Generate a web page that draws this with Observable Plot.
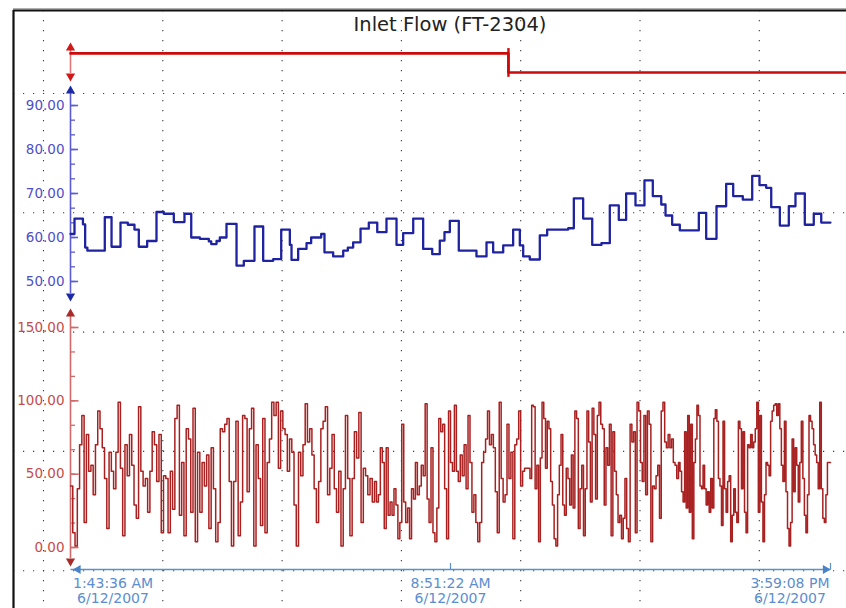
<!DOCTYPE html>
<html><head><meta charset="utf-8">
<script src="https://cdn.jsdelivr.net/npm/d3@7"></script>
<script src="https://cdn.jsdelivr.net/npm/@observablehq/plot@0.6"></script>
<style>
body{margin:0;background:#fff;}
#chart{position:relative;width:846px;height:608px;background:#fff;overflow:hidden;font-family:"DejaVu Sans",Verdana,sans-serif;}
#chart svg{position:absolute;left:0;top:0;}
#title{position:absolute;left:70px;width:760px;top:13px;text-align:center;font-size:19.5px;color:#222;z-index:5;font-family:"DejaVu Sans",Verdana,sans-serif;}
</style></head><body>
<div id="chart"><div id="title">Inlet Flow (FT-2304)</div></div>
<script>
// ---------- data ----------
const startTime = "2007-06-12T01:43:36Z";
const endTime = "2007-06-12T15:59:08Z";
const xTickTimes = ["2007-06-12T01:43:36Z", "2007-06-12T08:51:22Z", "2007-06-12T15:59:08Z"];
const xTickLabels = ["1:43:36 AM", "8:51:22 AM", "3:59:08 PM"];
const xTickDates = ["6/12/2007", "6/12/2007", "6/12/2007"];

// top digital trace (minutes from start)
const digitalMinutes = [0, 493, 873];
const digitalValues = [1, 0, 0];

// blue trace: change points (minutes from start) and values
const blueMinutes = [0, 4.5, 14, 16.5, 19, 38.6, 46.2, 56.3, 64.5, 72.0, 76.9, 86.3, 96.8, 105.0, 116.3, 128.3, 135.9, 145.6, 155.7, 158.4, 164.4, 168.1, 175.6, 186.9, 195.1, 207.1, 216.9, 228.2, 237.2, 246.9, 248.8, 256.3, 265.7, 270.9, 282.2, 285.9, 295.7, 307.0, 312.2, 318.2, 326.5, 335.8, 345.3, 355.7, 367.0, 374.5, 385.8, 397.0, 407.2, 415.7, 421.0, 427.0, 437.1, 457.0, 468.3, 475.8, 487.1, 498.3, 505.8, 509.6, 517.0, 528.3, 536.6, 560.3, 566.6, 577.1, 587.3, 597.7, 607.1, 617.2, 625.5, 636.0, 646.1, 655.5, 665.0, 669.8, 677.3, 685.9, 707.3, 715.6, 727.2, 738.1, 746.0, 756.8, 767.4, 775.6, 783.1, 788.8, 798.5, 808.6, 816.1, 826.6, 836.7, 845.1, 855.5];
const blueValues = [60.8, 64.3, 63.0, 57.7, 57.0, 64.6, 57.9, 63.4, 62.9, 61.8, 57.9, 59.2, 65.8, 65.4, 63.5, 65.4, 60.0, 59.7, 59.1, 58.5, 59.2, 60.0, 63.1, 53.6, 54.7, 62.5, 54.7, 55.1, 61.8, 58.3, 54.9, 57.4, 58.7, 60.0, 60.8, 56.6, 55.7, 57.0, 57.7, 58.9, 62.0, 63.4, 61.2, 64.3, 58.3, 61.0, 64.3, 57.4, 56.2, 59.3, 61.2, 63.8, 57.0, 55.7, 58.9, 56.6, 58.2, 61.8, 58.2, 55.7, 55.0, 60.5, 61.8, 62.1, 68.9, 64.3, 58.3, 58.7, 67.3, 64.0, 70.0, 67.3, 73.0, 69.4, 67.5, 65.0, 62.9, 61.6, 65.6, 59.7, 67.1, 72.2, 69.4, 68.6, 74.0, 71.9, 71.3, 66.9, 62.7, 67.1, 70.0, 62.9, 65.4, 63.4, 63.4];
const blueTicks = [50, 60, 70, 80, 90];
const blueDomain = [47.27, 92.73];

// red trace: five consecutive equal time segments, samples evenly spread in each
const redSeg1 = [42,10,1,40,70,90,17,77,52,56,36,70,93,81,68,47,13,65,52,40,65,99,54,8,70,49,77,56,29,20,96,52,42,47,24,52,79,70,45,77,10,49,47,10,52,26,88,97,22,58,8,81,74,24,95,4,65,24,58,42,63,13,68,40,4,17,81];
const redSeg2 = [79,84,88,45,1,45,86,8,31,90,88,38,81,95,1,70,47,15,88,10,58,74,99,90,99,54,93,81,77,52,74,65,29,1,65,49,70,98,72,81,63,40,17,45,81,86,96,36,54,77,40,24,52,1,40,90,47,8,47,79,61,92,17,54,49,36,47,31];
const redSeg3 = [45,31,36,68,58,13,68,22,31,22,40,29,6,17,84,31,17,27,6,40,33,58,36,42,56,49,98,33,17,68,10,4,27,88,79,84,40,6,93,58,52,97,52,45,63,49,70,40,90,58,24,36,17,4,17,58,65,74,93,70,77,68,38,10,99,47,31,36,84,47,65,6,70,74,93,42,52,54];
const redSeg4 = [54,54,47,97,96,40,56,4,61,99,88,54,86,81,45,29,6,1,36,56,77,29,22,54,47,29,63,27,93,88,13,40,56,8,40,93,72,31,95,77,33,90,99,84,81,29,68,56,84,8,79,52,36,17,22,6,20,47,13,4,84,72,79,10,99,93,58,45,90,36,93,84,4,42,40,49,56,20,93,99,72,68,77,68,74,58,56,47];
const redSeg5 = [58,52,38,31,79,27,90,24,84,6,58,74,97,90,42,40,56,40,29,38,24,47,27,88,94,86,47,42,15,86,40,24,45,49,4,22,40,24,17,86,81,40,79,24,10,70,68,77,68,72,81,99,24,90,31,4,36,58,56,49,86,93,97,98,90,98,81,56,45,86,38,13,1,17,74,38,68,56,31,58,86,47,22,10,36,90,86,81,70,63,58,40,99,40,20,17,36,58,58];
const redTicks = [0, 50, 100, 150];
const redDomain = [-7.5, 157.5];

// background screen grid (cell units)
const gridCols = [0, 1, 2, 3, 4, 5, 6];
const gridRows = [0, 1, 2, 3, 4];

// ---------- build ----------
const t0 = new Date(startTime), t1 = new Date(endTime);
const spanMin = (t1 - t0) / 60000;
const atMin = m => new Date(+t0 + m * 60000);

const blueData = blueMinutes.map((m, i) => ({t: atMin(m), v: blueValues[i]}));
const digitalData = digitalMinutes.map((m, i) => ({t: atMin(m), v: digitalValues[i]}));
const redSegs = [redSeg1, redSeg2, redSeg3, redSeg4, redSeg5];
const segLen = spanMin / redSegs.length;
const redData = redSegs.flatMap((seg, k) => seg.map((v, i) => ({t: atMin(k * segLen + i * segLen / seg.length), v})));
redData.push({t: t1, v: redSeg5[redSeg5.length - 1]});

const W = 846, H = 608, ML = 70, MR = 16;
const frameW = W - ML - MR;
const pxToTime = px => atMin(px * spanMin / frameW);
const font = "DejaVu Sans";
const xScale = {type: "utc", domain: [t0, t1], range: [ML, W - MR], axis: null};
const chart = document.getElementById("chart");

function layer(opts) {
  const svg = Plot.plot({
    width: W, height: H, marginLeft: ML, marginRight: MR,
    style: {background: "transparent", overflow: "visible", fontFamily: font},
    x: xScale,
    ...opts
  });
  chart.appendChild(svg);
}

function axisMarks(domain, majors, minors, lineColor, arrowColor, labelColor, majorLen) {
  const tEndMajor = pxToTime(majorLen), tEndMinor = pxToTime(4.5);
  const majorRows = majors ? majors.map(v => ({a: t0, b: tEndMajor, v})) : [];
  const minorRows = minors ? minors.map(v => ({a: t0, b: tEndMinor, v})) : [];
  return [
    Plot.ruleX([t0], {y1: domain[0], y2: domain[1], stroke: lineColor, strokeWidth: 1.6}),
    Plot.link(majorRows, {x1: "a", x2: "b", y1: "v", y2: "v", stroke: lineColor, strokeWidth: 1.6}),
    Plot.link(minorRows, {x1: "a", x2: "b", y1: "v", y2: "v", stroke: lineColor, strokeWidth: 1.3}),
    majors ? Plot.text(majors, {y: d => d, text: d => d3.format(".2f")(d), frameAnchor: "left", dx: -6, textAnchor: "end", fill: labelColor, fontSize: 13.5, fontFamily: font}) : null,
    Plot.dot([{t: t0, v: domain[1]}], {x: "t", y: "v", symbol: "triangle", r: 3.4, fill: arrowColor, stroke: null, dy: -2.6}),
    Plot.dot([{t: t0, v: domain[0]}], {x: "t", y: "v", symbol: "triangle", r: 3.4, fill: arrowColor, stroke: null, rotate: 180, dy: 2.6})
  ];
}

// background grid + frame borders
{
  const step = 119.3;
  const svg = Plot.plot({
    width: W, height: H, marginLeft: 13, marginRight: 0, marginTop: 10, marginBottom: 0,
    style: {background: "transparent", overflow: "visible"},
    x: {domain: [-30 / step, 803 / step], range: [13, W], axis: null},
    y: {domain: [-83 / step, 515 / step], range: [10, H], axis: null},
    marks: [
      Plot.ruleX(gridCols, {stroke: "#3a3a3a", strokeWidth: 1.1, strokeDasharray: "1.2,8.8"}),
      Plot.ruleY(gridRows, {stroke: "#3a3a3a", strokeWidth: 1.1, strokeDasharray: "1.2,8.8"}),
      Plot.ruleY([-83 / step], {stroke: "#b0b0b0", strokeWidth: 1.5, dy: -1.8}),
      Plot.ruleY([-83 / step], {stroke: "#111", strokeWidth: 2}),
      Plot.ruleX([-30 / step], {stroke: "#111", strokeWidth: 2.2})
    ]
  });
  chart.appendChild(svg);
}

// top digital trace
layer({
  marginTop: 50, marginBottom: H - 73,
  y: {domain: [-0.05, 1.15], range: [73, 50], axis: null},
  marks: [
    ...axisMarks([-0.05, 1.15], null, null, "#e07878", "#d01818", "#d01818", 7),
    Plot.line(digitalData, {x: "t", y: "v", curve: "step-after", stroke: "#cc0a0a", strokeWidth: 2.6}),
    Plot.ruleX([digitalData[1]], {x: "t", y1: 1.25, y2: -0.25, stroke: "#cc0a0a", strokeWidth: 2.4})
  ]
});

// blue trace
layer({
  marginTop: 93, marginBottom: H - 293,
  y: {domain: blueDomain, range: [293, 93], axis: null},
  marks: [
    ...axisMarks(blueDomain, blueTicks, d3.range(50, 92, 10 / 3), "#5a5ad2", "#1c2aa8", "#4e4ec8", 7.5),
    Plot.line(blueData, {x: "t", y: "v", curve: "step-after", stroke: "#1f23a0", strokeWidth: 2.3})
  ]
});

// red trace
layer({
  marginTop: 316, marginBottom: H - 558,
  y: {domain: redDomain, range: [558, 316], axis: null},
  marks: [
    ...axisMarks(redDomain, redTicks, d3.range(0, 151, 50 / 3), "#d06a6a", "#a82a2a", "#c84a4a", 8),
    Plot.line(redData, {x: "t", y: "v", curve: "step-after", stroke: "#a82020", strokeWidth: 1.5})
  ]
});

// time axis
{
  const ticks = xTickTimes.map((s, i) => ({t: new Date(s), label: xTickLabels[i] + "\n" + xTickDates[i]}));
  const lbl = {x: "t", text: "label", frameAnchor: "bottom", lineAnchor: "top", dy: 7, lineHeight: 1.11, fill: "#5a8ed0", fontSize: 14, fontFamily: font};
  layer({
    marginTop: 563, marginBottom: H - 569,
    y: {domain: [0, 1], axis: null},
    marks: [
      Plot.link([{a: t0, b: t1}], {x1: "a", x2: "b", y1: () => 0, y2: () => 0, stroke: "#5b8fd0", strokeWidth: 1.5}),
      Plot.tickX(ticks.slice(1), {x: "t", stroke: "#5b8fd0", strokeWidth: 1.2}),
      Plot.dot([{t: t0, v: 0}], {x: "t", y: "v", symbol: "triangle", r: 3.4, fill: "#4a82c8", stroke: null, rotate: -90, dx: 7.5}),
      Plot.dot([{t: t1, v: 0}], {x: "t", y: "v", symbol: "triangle", r: 3.4, fill: "#4a82c8", stroke: null, rotate: 90, dx: -5}),
      Plot.text([ticks[0]], {...lbl, dx: 42.5}),
      Plot.text([ticks[1]], {...lbl, dx: 0}),
      Plot.text([ticks[2]], {...lbl, dx: -40.5})
    ]
  });
}
</script>
</body></html>
